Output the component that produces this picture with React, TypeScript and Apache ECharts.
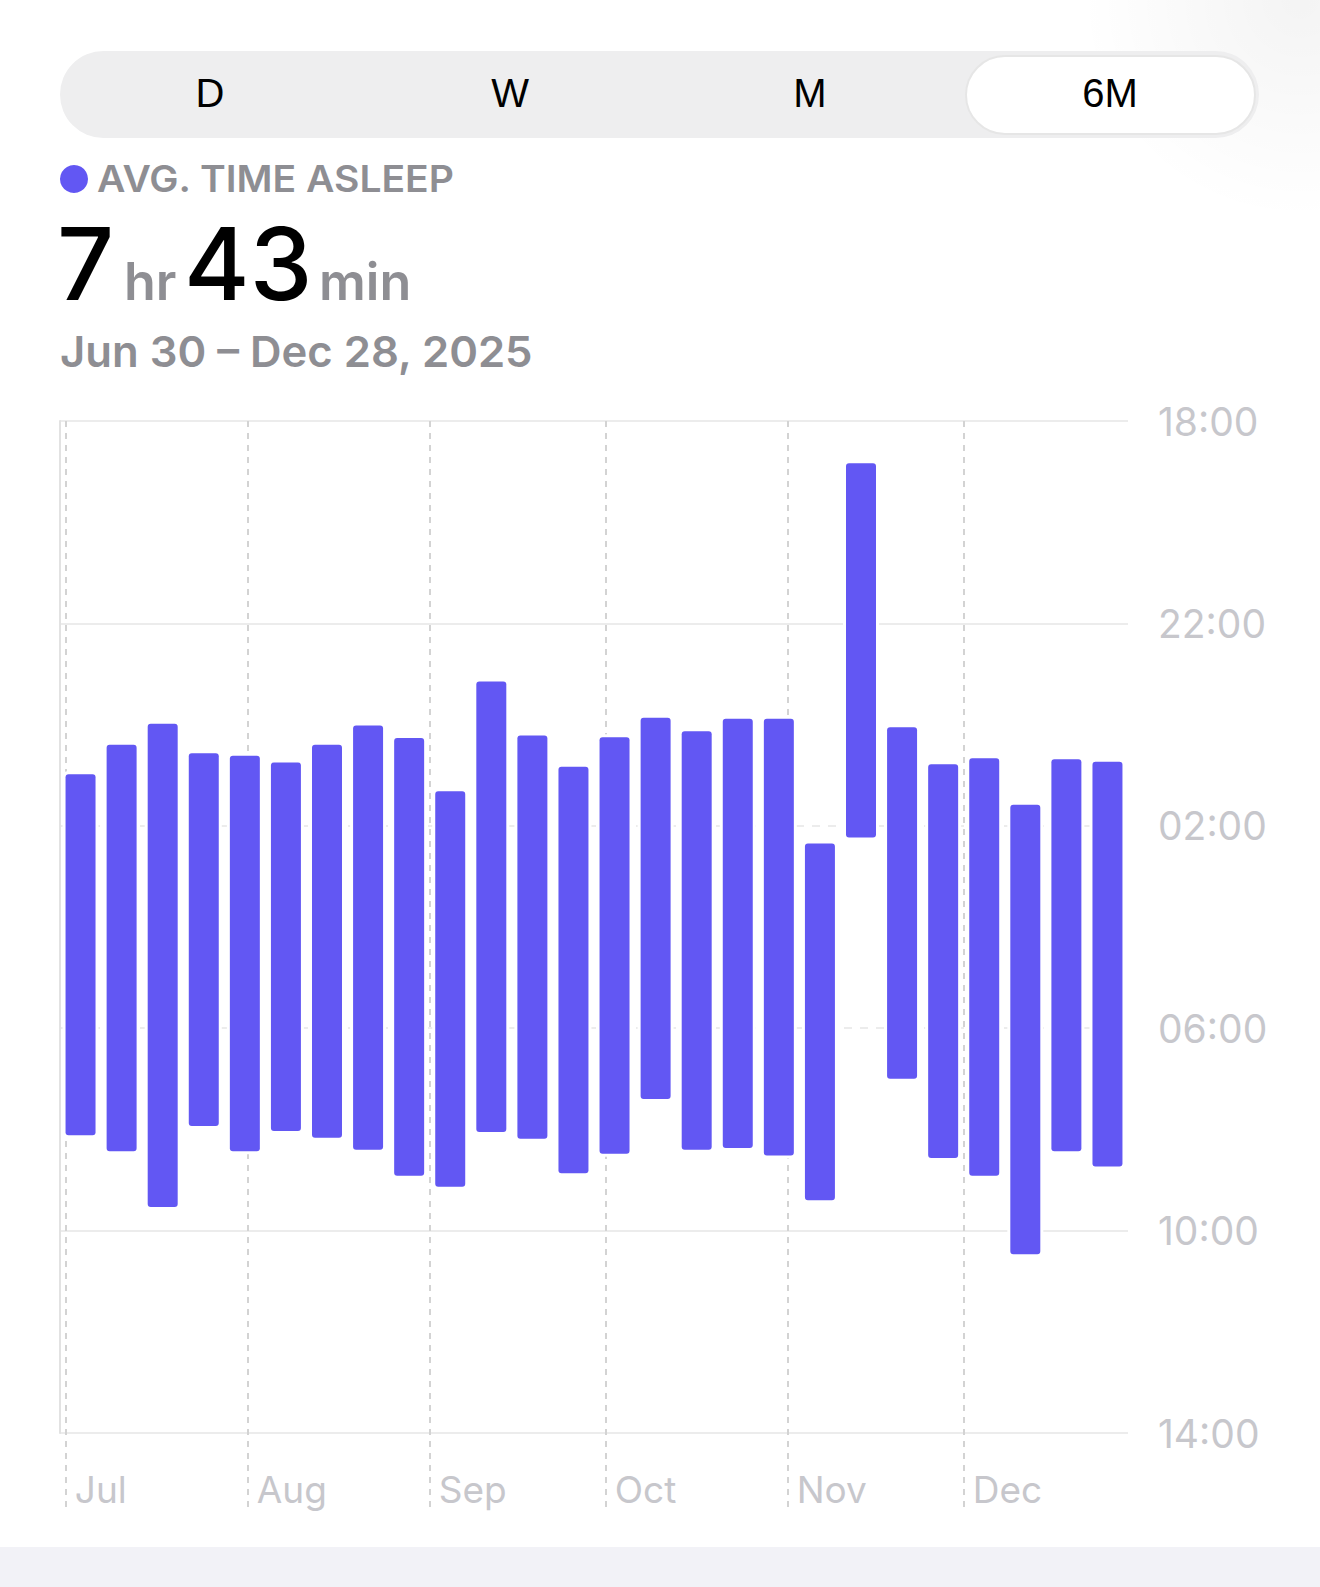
import { useEffect, useRef } from "react";
import * as echarts from "echarts";

// Weekly sleep ranges, Jun 30 – Dec 28, 2025 (bedtime → wake time)
const rangeStart = "2025-06-30";
const rangeEnd = "2025-12-29";

const weekStarts = [
  "2025-06-30", "2025-07-07", "2025-07-14", "2025-07-21", "2025-07-28",
  "2025-08-04", "2025-08-11", "2025-08-18", "2025-08-25",
  "2025-09-01", "2025-09-08", "2025-09-15", "2025-09-22", "2025-09-29",
  "2025-10-06", "2025-10-13", "2025-10-20", "2025-10-27",
  "2025-11-03", "2025-11-10", "2025-11-17", "2025-11-24",
  "2025-12-01", "2025-12-08", "2025-12-15", "2025-12-22",
];

const bedtimes = [
  "00:59", "00:24", "23:59", "00:34", "00:37", "00:45", "00:24", "00:01", "00:16",
  "01:19", "23:09", "00:13", "00:50", "00:15", "23:52", "00:08", "23:53", "23:53",
  "02:21", "18:50", "00:03", "00:47", "00:40", "01:35", "00:41", "00:44",
];

const wakeTimes = [
  "08:07", "08:26", "09:32", "07:56", "08:26", "08:02", "08:10", "08:24", "08:55",
  "09:08", "08:03", "08:11", "08:52", "08:29", "07:24", "08:24", "08:22", "08:31",
  "09:24", "02:14", "07:00", "08:34", "08:55", "10:28", "08:26", "08:44",
];

const monthStarts = ["2025-07-01", "2025-08-01", "2025-09-01", "2025-10-01", "2025-11-01", "2025-12-01"];
const monthLabels = ["Jul", "Aug", "Sep", "Oct", "Nov", "Dec"];

// y axis runs from 18:00 (top) to 14:00 next day (bottom)
const yTickLabels = ["18:00", "22:00", "02:00", "06:00", "10:00", "14:00"];
const segments = ["D", "W", "M", "6M"];

const BAR = "#6257F3";
const GRAY = "#8e8e93";
const AXIS_TEXT = "#c7c7cc";
const GRID = "#ececec";
const NONE = "rgba(0,0,0,0)";

const DAY = 86400000;
function dayOf(iso: string): number {
  return Math.round((Date.parse(iso + "T00:00:00Z") - Date.parse(rangeStart + "T00:00:00Z")) / DAY);
}

// hours elapsed since 18:00
function toHours(hhmm: string): number {
  const [h, m] = hhmm.split(":").map(Number);
  return (h + m / 60 - 18 + 24) % 24;
}

const monthDays = monthStarts.map(dayOf);
const totalDays = dayOf(rangeEnd);

const sleepData = weekStarts.map((d, i) => [dayOf(d) + 3.5, toHours(bedtimes[i]), toHours(wakeTimes[i])]);

function renderBar(_params: any, api: any) {
  const x = api.value(0);
  const top = api.coord([x, api.value(1)]);
  const bottom = api.coord([x, api.value(2)]);
  const w = api.size([7, 0])[0] * 0.73;
  const h = bottom[1] - top[1];
  return {
    type: "group",
    children: [
      {
        type: "rect",
        shape: { x: top[0] - w / 2 - 3, y: top[1] - 3, width: w + 6, height: h + 6, r: 5 },
        style: { fill: "#ffffff" },
      },
      {
        type: "rect",
        shape: { x: top[0] - w / 2, y: top[1], width: w, height: h, r: 3 },
        style: { fill: BAR },
      },
    ],
  };
}

function text(
  x: number,
  y: number,
  str: string,
  size: number,
  fill: string,
  weight: number | string = 400,
  family = "Inter",
  align = "left",
  scaleX = 1
) {
  return {
    type: "text",
    x,
    y,
    scaleX,
    silent: true,
    style: {
      text: str,
      fill,
      fontSize: size,
      fontWeight: weight,
      fontFamily: family,
      align,
      textAlign: align,
      verticalAlign: "middle",
      textVerticalAlign: "middle",
    },
  };
}

function buildOption() {
  const segW = 300;
  const graphic: any[] = [
    // faint shadow in the top right corner
    {
      type: "circle",
      silent: true,
      shape: { cx: 1300, cy: 0, r: 220 },
      style: {
        fill: new echarts.graphic.RadialGradient(0.5, 0.5, 0.5, [
          { offset: 0, color: "rgba(0,0,0,0.045)" },
          { offset: 1, color: "rgba(0,0,0,0)" },
        ]),
      },
    },
    {
      type: "rect",
      silent: true,
      shape: { x: 60, y: 51, width: 1199, height: 87, r: 43.5 },
      style: { fill: "#eeeeef" },
    },
    {
      type: "rect",
      silent: true,
      shape: { x: 966, y: 56, width: 289, height: 78, r: 39 },
      style: { fill: "#ffffff", stroke: "#e6e6e6", lineWidth: 2 },
    },
    ...segments.map((s, i) => text(60 + segW / 2 + i * segW, 93, s, 40, "#000000", 400, "Liberation Sans", "center")),
    {
      type: "circle",
      silent: true,
      shape: { cx: 74, cy: 179, r: 14 },
      style: { fill: BAR },
    },
    text(97, 178, "AVG. TIME ASLEEP", 37, GRAY, 600, "Inter", "left", 1.055),
    text(57, 263, "7", 100, "#000000", 500),
    text(124, 281, "hr", 52, GRAY, 600),
    text(184, 263, "43", 100, "#000000", 500),
    text(319, 281, "min", 52, GRAY, 600),
    text(60, 351, "Jun 30 – Dec 28, 2025", 43, GRAY, 600, "Inter", "left", 1.015),
    {
      type: "rect",
      silent: true,
      shape: { x: 0, y: 1547, width: 1320, height: 40 },
      style: { fill: "#f2f2f7" },
    },
  ];

  return {
    animation: false,
    backgroundColor: "#ffffff",
    textStyle: { fontFamily: "Inter" },
    graphic,
    grid: [
      { left: 60, right: 192, top: 421, height: 1012 },
      { left: 60, right: 192, top: 421, height: 1089 },
    ],
    xAxis: [
      { gridIndex: 0, type: "value", min: 0, max: totalDays, show: false },
      {
        gridIndex: 1,
        type: "value",
        min: 0,
        max: totalDays,
        axisLine: { show: false },
        axisTick: { show: false, customValues: monthDays },
        axisLabel: {
          customValues: monthDays,
          inside: true,
          margin: 2,
          align: "left",
          padding: [0, 0, 0, 9],
          color: AXIS_TEXT,
          fontSize: 37,
          fontFamily: "Inter",
          formatter: (v: number) => monthLabels[monthDays.indexOf(Math.round(v))] ?? "",
        },
        splitLine: { show: true, lineStyle: { color: "#d3d3d3", width: 2, type: [6, 6] } },
      },
    ],
    yAxis: [
      {
        gridIndex: 0,
        type: "value",
        min: 0,
        max: 20,
        interval: 4,
        inverse: true,
        position: "right",
        axisLine: { show: false },
        axisTick: { show: false },
        axisLabel: {
          margin: 30,
          color: AXIS_TEXT,
          fontSize: 39,
          fontFamily: "Inter",
          formatter: (v: number) => yTickLabels[Math.round(v / 4)] ?? "",
        },
        splitLine: { lineStyle: { width: 2, color: [GRID, GRID, NONE, NONE, GRID, GRID] } },
      },
      {
        gridIndex: 0,
        type: "value",
        min: 0,
        max: 20,
        interval: 4,
        inverse: true,
        position: "left",
        axisLine: { show: true, lineStyle: { color: "#e2e2e2", width: 2 } },
        axisTick: { show: false },
        axisLabel: { show: false },
        splitLine: { lineStyle: { width: 2, type: [8, 8], color: [NONE, NONE, GRID, GRID, NONE, NONE] } },
      },
      { gridIndex: 1, type: "value", min: 0, max: 1, show: false },
    ],
    series: [
      {
        name: "Time asleep",
        type: "custom",
        xAxisIndex: 0,
        yAxisIndex: 0,
        renderItem: renderBar,
        encode: { x: 0, y: [1, 2] },
        data: sleepData,
        z: 3,
      },
    ],
  };
}

export default function App() {
  const chartRef = useRef<HTMLDivElement>(null);

  useEffect(() => {
    if (!chartRef.current) return;
    const chart = echarts.init(chartRef.current, null, { renderer: "svg" });
    chart.setOption(buildOption());
    return () => {
      chart.dispose();
    };
  }, []);

  return (
    <div
      ref={chartRef}
      aria-label="sleep chart"
      style={{ position: "absolute", left: 0, top: 0, width: 1320, height: 1587 }}
    />
  );
}
